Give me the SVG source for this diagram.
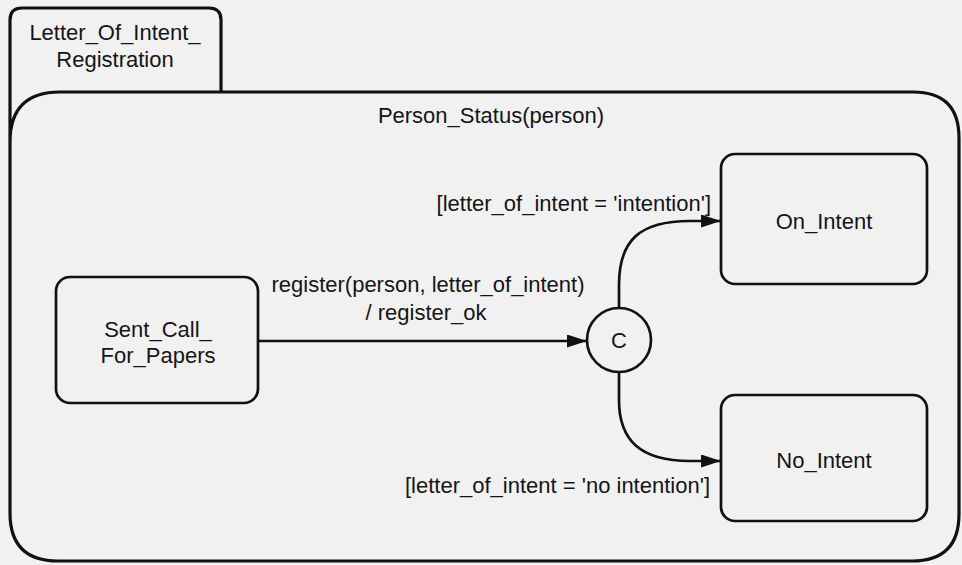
<svg xmlns="http://www.w3.org/2000/svg" width="962" height="565" viewBox="0 0 962 565">
  <defs>
    <style>
      .frame { fill: none; stroke: #111; stroke-width: 3.2; stroke-linejoin: round; }
      .state { fill: none; stroke: #111; stroke-width: 2.7; }
      .edge { fill: none; stroke: #111; stroke-width: 2.7; }
      .lbl { font-family: "Liberation Sans", Arial, Helvetica, sans-serif; font-size: 22px; fill: #151515; }
      .mid { text-anchor: middle; }
      .end { text-anchor: end; }
    </style>
    <marker id="arrow" viewBox="0 0 20 13" refX="20" refY="6.5" markerWidth="20" markerHeight="13" markerUnits="userSpaceOnUse" orient="auto">
      <path d="M0,0 L20,6.5 L0,13 Z" fill="#111"/>
    </marker>
  </defs>

  <rect x="0" y="0" width="962" height="565" fill="#f1f1f1"/>

  <!-- Superstate with name tab -->
  <g id="letter_of_intent_registration">
    <path class="frame" d="M221,92 V20 Q221,8 209,8 H22 Q10,8 10,20 V513 Q10,561 58,561 H912 Q959,561 959,514 V138 Q959,92 913,92 H60 Q10,92 10,142"/>
    <text class="lbl mid" x="115" y="40">Letter_Of_Intent_</text>
    <text class="lbl mid" x="115" y="67">Registration</text>
    <text class="lbl mid" x="491" y="123">Person_Status(person)</text>
  </g>

  <g id="sent_call_for_papers">
    <rect class="state" x="56" y="277" width="202" height="126" rx="14"/>
    <text class="lbl mid" x="158" y="337">Sent_Call_</text>
    <text class="lbl mid" x="158" y="363">For_Papers</text>
  </g>

  <g id="choice">
    <circle class="state" cx="619" cy="340" r="32"/>
    <text class="lbl mid" x="619" y="348">C</text>
  </g>

  <g id="on_intent">
    <rect class="state" x="721" y="154" width="206" height="130" rx="14"/>
    <text class="lbl mid" x="824" y="229">On_Intent</text>
  </g>

  <g id="no_intent">
    <rect class="state" x="721" y="395" width="206" height="126" rx="14"/>
    <text class="lbl mid" x="824" y="468">No_Intent</text>
  </g>

  <g id="connectors">
    <path class="edge" d="M258,341 H587" marker-end="url(#arrow)"/>
    <path class="edge" d="M619,308 V285 C619,240 640,221 690,221 H721" marker-end="url(#arrow)"/>
    <path class="edge" d="M619,372 V400 C619,440 640,461 690,461 H721" marker-end="url(#arrow)"/>
    <text class="lbl mid" x="428" y="292">register(person, letter_of_intent)</text>
    <text class="lbl mid" x="426" y="320">/ register_ok</text>
    <text class="lbl end" x="711" y="211">[letter_of_intent = 'intention']</text>
    <text class="lbl end" x="710" y="493">[letter_of_intent = 'no intention']</text>
  </g>
</svg>
